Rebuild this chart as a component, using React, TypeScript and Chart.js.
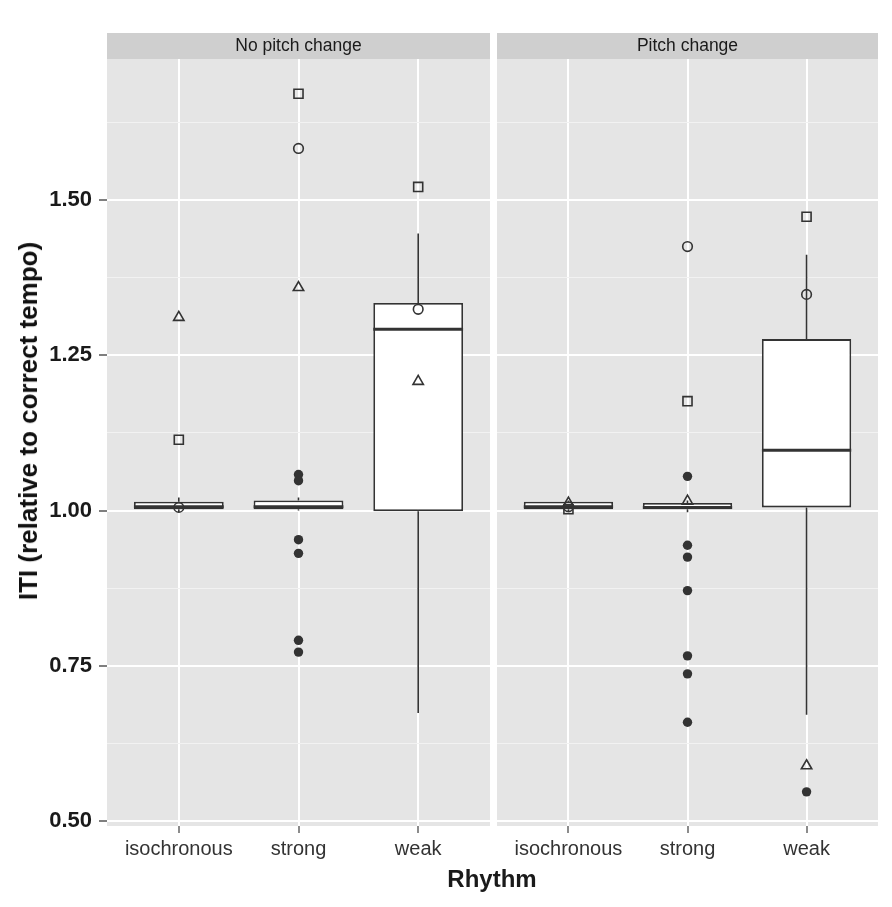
import { useEffect, useRef } from 'react';
import { Chart, registerables } from 'chart.js';

Chart.register(...registerables);

const FONT = '"Liberation Sans", Arial, Helvetica, sans-serif';
Chart.defaults.font.family = FONT;

// categories on the x axis, one panel per pitch condition
const categories = ['isochronous', 'strong', 'weak'];
const panelTitles = ['No pitch change', 'Pitch change'];

// y axis
const yMajorTicks = [0.5, 0.75, 1.0, 1.25, 1.5];
const yMinorTicks = [0.625, 0.875, 1.125, 1.375, 1.625];
const yMin = 0.492;
const yMax = 1.727;

// No pitch change: box statistics per rhythm
const noPitchQ1 = [1.002, 1.002, 0.999];
const noPitchMedian = [1.006, 1.006, 1.292];
const noPitchQ3 = [1.014, 1.016, 1.334];
const noPitchLow = [0.997, 1.0, 0.674];
const noPitchHigh = [1.021, 1.021, 1.446];
const noPitchOutliers = [[], [1.058, 1.048, 0.953, 0.931, 0.791, 0.772], []];
const noPitchSquares = [1.114, 1.671, 1.521];
const noPitchCircles = [1.005, 1.583, 1.324];
const noPitchTriangles = [1.311, 1.359, 1.208];

// Pitch change
const pitchQ1 = [1.002, 1.002, 1.005];
const pitchMedian = [1.006, 1.005, 1.097];
const pitchQ3 = [1.014, 1.012, 1.276];
const pitchLow = [0.999, 0.997, 0.671];
const pitchHigh = [1.016, 1.016, 1.412];
const pitchOutliers = [[], [1.055, 0.944, 0.925, 0.871, 0.766, 0.737, 0.659], [0.547]];
const pitchSquares = [1.002, 1.176, 1.473];
const pitchCircles = [1.006, 1.425, 1.348];
const pitchTriangles = [1.012, 1.015, 0.589];

interface PanelData {
  title: string;
  q1: number[];
  median: number[];
  q3: number[];
  low: number[];
  high: number[];
  outliers: number[][];
  squares: number[];
  circles: number[];
  triangles: number[];
}

const panels: PanelData[] = [
  {
    title: panelTitles[0], q1: noPitchQ1, median: noPitchMedian, q3: noPitchQ3,
    low: noPitchLow, high: noPitchHigh, outliers: noPitchOutliers,
    squares: noPitchSquares, circles: noPitchCircles, triangles: noPitchTriangles,
  },
  {
    title: panelTitles[1], q1: pitchQ1, median: pitchMedian, q3: pitchQ3,
    low: pitchLow, high: pitchHigh, outliers: pitchOutliers,
    squares: pitchSquares, circles: pitchCircles, triangles: pitchTriangles,
  },
];

const INK = '#333333';
const BOX_WIDTH = 0.75;

const isMajor = (v: number | undefined) =>
  v !== undefined && yMajorTicks.some(t => Math.abs(t - v) < 1e-6);

// grey panel + facet strip, ggplot style
const panelPlugin = {
  id: 'panel',
  beforeDraw(chart: Chart, _args: unknown, opts: { title: string }) {
    const { ctx, chartArea } = chart;
    const { left, right, top, bottom } = chartArea;
    ctx.save();
    ctx.fillStyle = '#E5E5E5';
    ctx.fillRect(left, top, right - left, bottom - top);
    ctx.fillStyle = '#CFCFCF';
    ctx.fillRect(left, top - 26, right - left, 26);
    ctx.fillStyle = '#1A1A1A';
    ctx.font = `17.5px ${FONT}`;
    ctx.textAlign = 'center';
    ctx.textBaseline = 'middle';
    ctx.fillText(opts.title, (left + right) / 2, top - 13);
    ctx.restore();
  },
};

function buildConfig(p: PanelData, showY: boolean, padRight: number): any {
  const medianPts: any[] = [];
  const whiskerPts: any[] = [];
  categories.forEach((_, i) => {
    const x = i + 1;
    medianPts.push({ x: x - BOX_WIDTH / 2, y: p.median[i] }, { x: x + BOX_WIDTH / 2, y: p.median[i] }, { x, y: null });
    whiskerPts.push({ x, y: p.q3[i] }, { x, y: p.high[i] }, { x, y: null });
    whiskerPts.push({ x, y: p.q1[i] }, { x, y: p.low[i] }, { x, y: null });
  });

  return {
    type: 'bar',
    data: {
      datasets: [
        {
          type: 'scatter', label: 'square',
          data: p.squares.map((y, i) => ({ x: i + 1, y })),
          pointStyle: 'rect', pointRadius: 6.4, borderColor: INK, borderWidth: 1.6,
          backgroundColor: 'rgba(0,0,0,0)',
        },
        {
          type: 'scatter', label: 'circle',
          data: p.circles.map((y, i) => ({ x: i + 1, y })),
          pointStyle: 'circle', pointRadius: 4.8, borderColor: INK, borderWidth: 1.6,
          backgroundColor: 'rgba(0,0,0,0)',
        },
        {
          type: 'scatter', label: 'triangle',
          data: p.triangles.map((y, i) => ({ x: i + 1, y })),
          pointStyle: 'triangle', pointRadius: 6, borderColor: INK, borderWidth: 1.6,
          backgroundColor: 'rgba(0,0,0,0)',
        },
        {
          type: 'scatter', label: 'outliers',
          data: p.outliers.flatMap((vals, i) => vals.map(y => ({ x: i + 1, y }))),
          pointStyle: 'circle', pointRadius: 4.7, borderWidth: 0, backgroundColor: INK,
        },
        {
          type: 'line', label: 'median', data: medianPts,
          borderColor: INK, borderWidth: 3, pointRadius: 0, spanGaps: false,
        },
        {
          type: 'bar', label: 'box',
          data: p.q1.map((lo, i) => ({ x: i + 1, y: [lo, p.q3[i]] })),
          backgroundColor: '#FFFFFF', borderColor: INK, borderWidth: 1.8,
          borderSkipped: false, barPercentage: BOX_WIDTH, categoryPercentage: 1,
        },
        {
          type: 'line', label: 'whisker', data: whiskerPts,
          borderColor: INK, borderWidth: 1.6, pointRadius: 0, spanGaps: false,
        },
      ],
    },
    options: {
      responsive: false,
      animation: false,
      events: [],
      layout: { autoPadding: false, padding: { top: 59, right: padRight, left: 0, bottom: 0 } },
      plugins: {
        legend: { display: false },
        tooltip: { enabled: false },
        panel: { title: p.title },
      },
      scales: {
        x: {
          type: 'linear', min: 0.4, max: 3.6, offset: false,
          afterBuildTicks: (s: any) => { s.ticks = categories.map((_, i) => ({ value: i + 1 })); },
          afterFit: (s: any) => {
            s.height = 81;
            s.paddingLeft = 0;
            s.paddingRight = 0;
          },
          ticks: {
            callback: (v: number) => categories[Math.round(v) - 1] ?? '',
            font: { size: 20 }, color: '#333333', padding: 4,
            maxRotation: 0, autoSkip: false,
          },
          grid: {
            color: '#FFFFFF', lineWidth: 2, offset: false,
            tickColor: '#666666', tickWidth: 1.5, tickLength: 7,
          },
          border: { display: false },
        },
        y: {
          type: 'linear', min: yMin, max: yMax,
          afterBuildTicks: (s: any) => {
            s.ticks = [...yMajorTicks, ...yMinorTicks].sort((a, b) => a - b).map(value => ({ value }));
          },
          afterFit: (s: any) => {
            s.width = showY ? 107 : 0;
            s.paddingTop = 0;
            s.paddingBottom = 0;
          },
          ticks: {
            display: showY, autoSkip: false, padding: 7,
            callback: (v: number) => (isMajor(v) ? v.toFixed(2) : ''),
            font: { size: 22, weight: 'bold' }, color: '#1A1A1A',
          },
          grid: {
            color: (c: any) => (isMajor(c.tick?.value) ? '#FFFFFF' : '#F2F2F2'),
            lineWidth: (c: any) => (isMajor(c.tick?.value) ? 2 : 1),
            drawTicks: showY,
            tickColor: (c: any) => (isMajor(c.tick?.value) ? '#555555' : 'rgba(0,0,0,0)'),
            tickWidth: 1.5, tickLength: 8,
          },
          border: { display: false },
        },
      },
    },
    plugins: [panelPlugin],
  };
}

export default function App() {
  const leftRef = useRef<HTMLCanvasElement | null>(null);
  const rightRef = useRef<HTMLCanvasElement | null>(null);

  useEffect(() => {
    const charts: Chart[] = [];
    if (leftRef.current) charts.push(new Chart(leftRef.current, buildConfig(panels[0], true, 0)));
    if (rightRef.current) charts.push(new Chart(rightRef.current, buildConfig(panels[1], false, 15)));
    return () => charts.forEach(c => c.destroy());
  }, []);

  return (
    <div style={{ position: 'fixed', left: 0, top: 0, width: 892, height: 907, background: '#fff', fontFamily: FONT }}>
      <canvas ref={leftRef} width={490} height={907} style={{ position: 'absolute', left: 0, top: 0 }} />
      <canvas ref={rightRef} width={396} height={907} style={{ position: 'absolute', left: 497, top: 0 }} />
      <div
        style={{
          position: 'absolute', left: 28, top: 421, transform: 'translate(-50%, -50%) rotate(-90deg)',
          whiteSpace: 'nowrap', fontSize: 26, fontWeight: 'bold', lineHeight: 1, color: '#111',
        }}
      >
        ITI (relative to correct tempo)
      </div>
      <div
        style={{
          position: 'absolute', left: 492, top: 879, transform: 'translate(-50%, -50%)',
          whiteSpace: 'nowrap', fontSize: 24, fontWeight: 'bold', lineHeight: 1, color: '#1A1A1A',
        }}
      >
        Rhythm
      </div>
    </div>
  );
}
